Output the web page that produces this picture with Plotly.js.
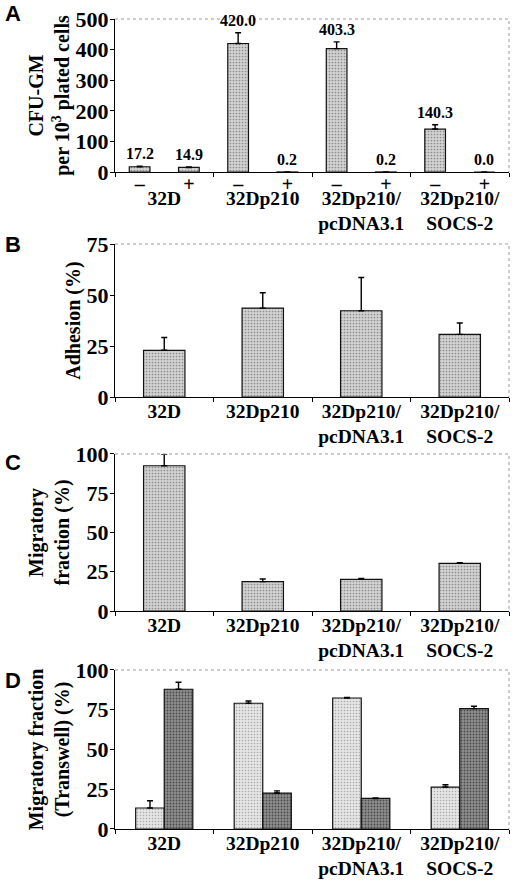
<!DOCTYPE html>
<html><head><meta charset="utf-8">
<script src="https://cdn.plot.ly/plotly-3.0.1.min.js"></script>
<style>html,body{margin:0;padding:0;background:#fff}#chart{width:520px;height:882px}</style>
</head><body><div id="chart"></div>
<script>
// ---- data ----
const groups = ['32D', '32Dp210', '32Dp210/<br>pcDNA3.1', '32Dp210/<br>SOCS-2'];
const cfuSigns = ['–', '+', '–', '+', '–', '+', '–', '+'];
const cfuValues = [17.2, 14.9, 420.0, 0.2, 403.3, 0.2, 140.3, 0.0];
const cfuErrors = [2, 2, 35, 0, 22, 0, 14, 0];
const cfuLabels = ['17.2', '14.9', '420.0', '0.2', '403.3', '0.2', '140.3', '0.0'];
const adhesionValues = [22.9, 43.6, 42.3, 30.7];
const adhesionErrors = [6.3, 7.5, 16.3, 5.6];
const migrationValues = [92.5, 18.7, 20.2, 30.4];
const migrationErrors = [7.5, 1.7, 0.6, 0.4];
const transwellLight = [13.2, 79.1, 82.4, 26.4];
const transwellLightErr = [4.6, 1.4, 0.4, 1.4];
const transwellDark = [87.9, 22.6, 19.2, 75.7];
const transwellDarkErr = [4.4, 1.4, 0.3, 1.5];

const SERIF = 'Liberation Serif, Times New Roman, serif';
const SANS = 'Liberation Sans, Arial, sans-serif';
const zeros = n => new Array(n).fill(0);
const err = a => ({type:'data', array:a, arrayminus:zeros(a.length), symmetric:false, color:'#000', thickness:1.4, width:3});
const fillMid = {color:'#bdbdbd', line:{color:'#111', width:1.2}, pattern:{shape:'.', fgcolor:'#8a8a8a', bgcolor:'#d2d2d2', size:3, solidity:0.25}};
const fillLight = {color:'#d8d8d8', line:{color:'#111', width:1.2}, pattern:{shape:'.', fgcolor:'#a8a8a8', bgcolor:'#e4e4e4', size:3, solidity:0.2}};
const fillDark = {color:'#7a7a7a', line:{color:'#111', width:1.2}, pattern:{shape:'.', fgcolor:'#4a4a4a', bgcolor:'#8e8e8e', size:3, solidity:0.3}};

const cfuX = cfuValues.map((_, i) => i);
const traces = [
  {type:'bar', x:cfuX, y:cfuValues, error_y:err(cfuErrors), marker:fillMid, width:0.42, xaxis:'x', yaxis:'y', hoverinfo:'none'},
  {type:'bar', x:groups, y:adhesionValues, error_y:err(adhesionErrors), marker:fillMid, width:0.42, xaxis:'x2', yaxis:'y2', hoverinfo:'none'},
  {type:'bar', x:groups, y:migrationValues, error_y:err(migrationErrors), marker:fillMid, width:0.42, xaxis:'x3', yaxis:'y3', hoverinfo:'none'},
  {type:'bar', x:groups, y:transwellLight, error_y:err(transwellLightErr), marker:fillLight, xaxis:'x4', yaxis:'y4', hoverinfo:'none'},
  {type:'bar', x:groups, y:transwellDark, error_y:err(transwellDarkErr), marker:fillDark, xaxis:'x4', yaxis:'y4', hoverinfo:'none'}
];

const xTickFont = {family:SERIF, size:19.5, color:'#000', weight:700};
const yTickFont = {family:SERIF, size:22, color:'#000', weight:700};
const titleFont = {family:SERIF, size:20, color:'#000', weight:700};
function yax(range, dtick, domain, title, anchor){
  return {domain:domain, range:range, dtick:dtick, anchor:anchor, showgrid:false, zeroline:false,
    showline:true, linecolor:'#000', linewidth:1.2, ticks:'outside', ticklen:4, tickcolor:'#000',
    tickfont:yTickFont, ticklabelstandoff:-3, title:{text:title, font:titleFont, standoff:0}, fixedrange:true};
}
function xcat(anchor){
  return {domain:[0,1], anchor:anchor, showgrid:false, zeroline:false, showline:true, linecolor:'#000', linewidth:1.2,
    ticks:'outside', tickson:'boundaries', ticklen:4, tickcolor:'#000', tickfont:xTickFont, ticklabelstandoff:-4, fixedrange:true};
}

const annotations = cfuValues.map((v, i) => ({
  x:i, y:v + cfuErrors[i], xref:'x', yref:'y', text:cfuLabels[i], showarrow:false,
  yanchor:'bottom', yshift:2, font:{family:SERIF, size:16, color:'#000', weight:700}
}));
const letters = [['A', 13.5], ['B', 244], ['C', 462], ['D', 680]];
letters.forEach(([t, py]) => annotations.push({
  text:t, xref:'paper', yref:'paper', x:(3 - 115) / 394, y:(829 - py) / 810, xanchor:'left', yanchor:'middle',
  showarrow:false, font:{family:SANS, size:22, color:'#000', weight:700}
}));

const frame = ['', '2', '3', '4'].map(s => ({
  type:'path', xref:'x' + s + ' domain', yref:'y' + s + ' domain',
  path:'M 0 1 L 1 1 L 1 0', line:{color:'#9a9a9a', width:1, dash:'dot'}
}));

const layout = {
  width:520, height:882, margin:{l:115, r:11, t:19, b:53}, showlegend:false,
  paper_bgcolor:'#fff', plot_bgcolor:'#fff', bargap:0.42, barmode:'group', bargroupgap:0,
  font:{family:SERIF, color:'#000'},
  xaxis:{domain:[0,1], anchor:'y', range:[-0.5, 7.5], tickvals:cfuX, ticktext:cfuSigns, showgrid:false, zeroline:false,
    showline:true, linecolor:'#000', linewidth:1.2, ticks:'', tickfont:{family:SERIF, size:20, color:'#000', weight:700},
    ticklabelstandoff:-6, fixedrange:true,
    minor:{tickmode:'array', tickvals:groups.map((_, g) => 2 * g - 0.5).concat([7.5]), ticks:'outside', ticklen:4, tickcolor:'#000', showgrid:false}},
  xaxis5:{overlaying:'x', anchor:'y', side:'bottom', range:[-0.5, 7.5], tickvals:groups.map((_, g) => 2 * g + 0.5), ticktext:groups,
    showgrid:false, zeroline:false, showline:false, ticks:'', tickfont:xTickFont, ticklabelstandoff:12, fixedrange:true},
  yaxis:yax([0, 500], 100, [0.8111, 1], 'CFU-GM<br>per 10<sup>3</sup> plated cells', 'x'),
  xaxis2:xcat('y2'),
  yaxis2:yax([0, 75], 25, [0.5333, 0.7222], 'Adhesion (%)', 'x2'),
  xaxis3:xcat('y3'),
  yaxis3:yax([0, 100], 25, [0.2691, 0.4630], 'Migratory<br>fraction (%)', 'x3'),
  xaxis4:xcat('y4'),
  yaxis4:yax([0, 100], 25, [0, 0.1963], 'Migratory fraction<br>(Transwell) (%)', 'x4'),
  annotations:annotations, shapes:frame
};
traces.push({type:'scatter', x:[0], y:[0], mode:'none', xaxis:'x5', yaxis:'y', hoverinfo:'none'});
Plotly.newPlot('chart', traces, layout, {staticPlot:true, displayModeBar:false});
</script></body></html>
